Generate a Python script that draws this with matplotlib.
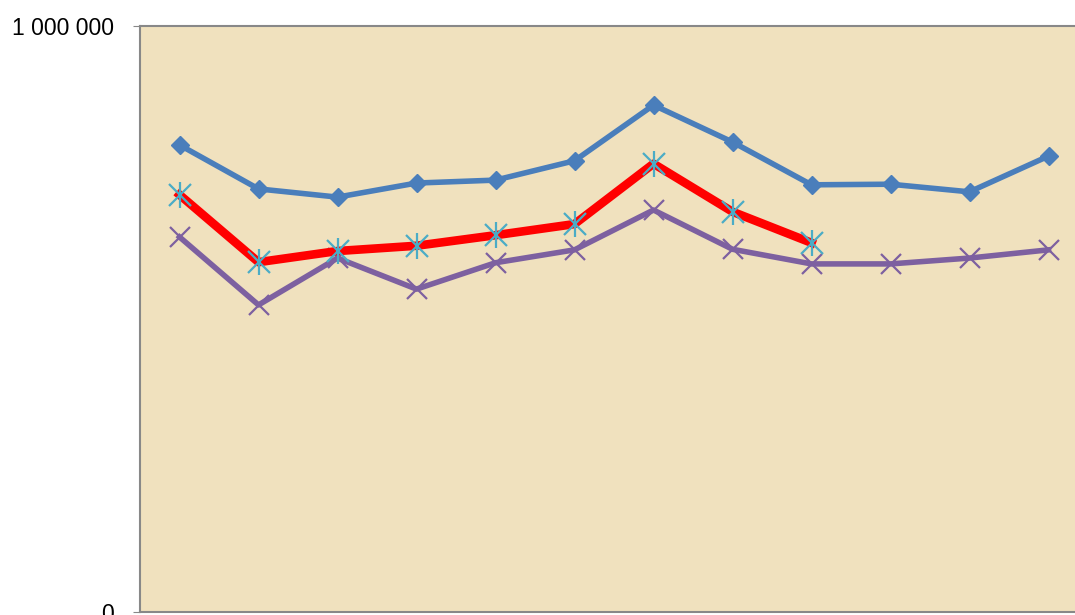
import matplotlib.pyplot as plt
import numpy as np

# valores
categorias = list(range(1, 13))
serie_azul = [797000, 722000, 708000, 732000, 737000, 770000, 865000, 802000, 729000, 730000, 717000, 778000]
serie_vermelha = [712000, 597000, 616000, 625000, 643000, 662000, 765000, 683000, 630000]
serie_roxa = [640000, 524000, 604000, 551000, 596000, 618000, 686000, 619000, 594000, 594000, 604000, 618000]
yticks = [0, 1000000]
ytick_labels = ["0", "1 000 000"]

plt.rcParams['font.family'] = ['Liberation Sans', 'DejaVu Sans']

fig = plt.figure(figsize=(10.75, 6.15), dpi=100)
ax = fig.add_axes([140 / 1075, 3 / 615, 948 / 1075, 586 / 615])

# fundo cor de pergaminho
ax.set_facecolor("#F0E1BE")

x = np.arange(len(categorias))
ax.plot(x, serie_azul, color="#4A7EBB", lw=4, marker="D", ms=9,
        mec="#4A7EBB", zorder=3)
ax.plot(x, serie_roxa, color="#7D60A0", lw=4, marker="x", ms=15, mew=1.6,
        zorder=3)
xr = np.arange(len(serie_vermelha))
ax.plot(xr, serie_vermelha, color="#FF0000", lw=6.2, zorder=4)
ax.plot(xr, serie_vermelha, ls="none", marker="x", ms=16, mew=1.6,
        color="#4BACC6", zorder=5)
ax.plot(xr, serie_vermelha, ls="none", marker="|", ms=19, mew=1.6,
        color="#4BACC6", zorder=5)

ax.set_xlim(-0.5, 11.5)
ax.set_ylim(0, 1000000)
ax.set_yticks(yticks)
ax.set_yticklabels(ytick_labels, fontsize=16.5)
ax.set_xticks([])
ax.tick_params(axis="y", length=5, color="#888888", pad=14)
ax.axhline(1000000, color="#888888", lw=1.5, zorder=6, clip_on=False)
for s in ["left", "bottom"]:
    ax.spines[s].set_color("#888888")
    ax.spines[s].set_linewidth(1.5)
for s in ["top", "right"]:
    ax.spines[s].set_visible(False)

fig.savefig("out.png", dpi=100)
